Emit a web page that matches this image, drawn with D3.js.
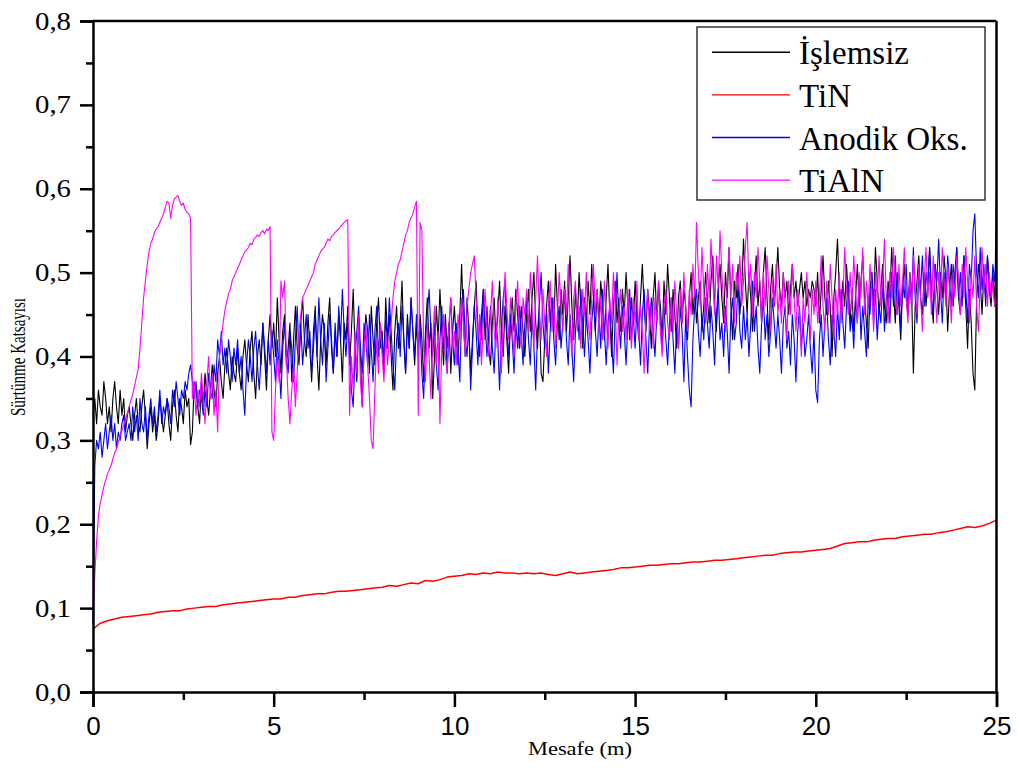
<!DOCTYPE html>
<html>
<head>
<meta charset="utf-8">
<script src="https://cdn.jsdelivr.net/npm/d3@7"></script>
<style>
  html, body { margin: 0; padding: 0; background: #fff; }
  svg { display: block; }
</style>
</head>
<body>
<svg id="chart" width="1018" height="769"></svg>
<script>
// Friction coefficient vs. sliding distance (0 ... 25 m) for four surface conditions.
// Each array is sampled uniformly over the 25 m run (noisy series every 0.05 m, TiN every 0.2 m).
const distanceMax = 25;

const islemsiz = [
  0.33,0.35,0.32,0.36,0.34,0.33,0.37,0.35,0.32,0.34, 0.31,0.35,0.37,0.34,0.32,0.36,0.33,0.35,0.31,0.33,
  0.34,0.32,0.30,0.33,0.35,0.32,0.31,0.34,0.36,0.33, 0.29,0.32,0.34,0.31,0.33,0.30,0.32,0.35,0.33,0.31,
  0.33,0.35,0.32,0.30,0.34,0.36,0.33,0.31,0.35,0.34, 0.32,0.36,0.34,0.35,0.295,0.31,0.37,0.36,0.34,0.32,
  0.37,0.34,0.38,0.35,0.33,0.36,0.39,0.36,0.34,0.38, 0.40,0.37,0.35,0.39,0.41,0.38,0.36,0.40,0.38,0.37,
  0.41,0.38,0.36,0.40,0.42,0.39,0.37,0.41,0.43,0.38, 0.35,0.40,0.42,0.39,0.44,0.40,0.36,0.42,0.45,0.41,
  0.44,0.40,0.47,0.42,0.38,0.43,0.45,0.39,0.41,0.44, 0.37,0.42,0.46,0.41,0.39,0.44,0.47,0.42,0.40,0.45,
  0.41,0.37,0.43,0.46,0.40,0.36,0.42,0.45,0.43,0.39, 0.44,0.47,0.41,0.38,0.43,0.40,0.45,0.42,0.37,0.44,
  0.42,0.46,0.39,0.43,0.48,0.41,0.37,0.44,0.40,0.34, 0.41,0.45,0.43,0.38,0.46,0.42,0.39,0.44,0.47,0.41,
  0.43,0.39,0.47,0.42,0.45,0.40,0.36,0.43,0.46,0.41, 0.44,0.49,0.42,0.38,0.45,0.41,0.47,0.43,0.39,0.44,
  0.40,0.45,0.42,0.37,0.43,0.47,0.41,0.44,0.35,0.40, 0.46,0.42,0.48,0.43,0.39,0.45,0.41,0.44,0.38,0.43,
  0.46,0.42,0.39,0.45,0.51,0.44,0.40,0.47,0.43,0.38, 0.42,0.46,0.49,0.43,0.40,0.45,0.48,0.42,0.46,0.41,
  0.39,0.44,0.47,0.42,0.45,0.49,0.43,0.40,0.46,0.42, 0.38,0.44,0.47,0.43,0.48,0.45,0.41,0.46,0.43,0.40,
  0.45,0.48,0.43,0.47,0.50,0.44,0.41,0.46,0.38,0.37, 0.42,0.46,0.49,0.44,0.47,0.43,0.51,0.46,0.42,0.48,
  0.45,0.49,0.43,0.47,0.52,0.46,0.42,0.48,0.44,0.50, 0.46,0.41,0.47,0.44,0.49,0.45,0.51,0.47,0.43,0.48,
  0.44,0.49,0.46,0.42,0.47,0.51,0.45,0.40,0.46,0.49, 0.44,0.47,0.43,0.48,0.45,0.50,0.46,0.42,0.47,0.44,
  0.49,0.45,0.42,0.47,0.51,0.46,0.43,0.48,0.45,0.41, 0.47,0.50,0.44,0.48,0.46,0.42,0.49,0.45,0.51,0.47,
  0.43,0.48,0.45,0.41,0.47,0.49,0.44,0.48,0.46,0.42, 0.47,0.50,0.45,0.48,0.44,0.47,0.49,0.43,0.46,0.50,
  0.47,0.44,0.49,0.52,0.46,0.43,0.48,0.51,0.47,0.44, 0.50,0.47,0.53,0.46,0.42,0.49,0.47,0.51,0.45,0.48,
  0.54,0.49,0.45,0.50,0.47,0.43,0.48,0.52,0.46,0.49, 0.44,0.50,0.53,0.47,0.42,0.48,0.51,0.46,0.49,0.53,
  0.48,0.46,0.50,0.47,0.49,0.45,0.48,0.51,0.47,0.49, 0.46,0.48,0.50,0.47,0.49,0.46,0.48,0.47,0.49,0.48,
  0.46,0.50,0.44,0.48,0.52,0.47,0.45,0.49,0.46,0.40, 0.47,0.50,0.54,0.48,0.45,0.49,0.46,0.51,0.47,0.44,
  0.48,0.43,0.47,0.51,0.46,0.49,0.52,0.47,0.44,0.41, 0.48,0.50,0.46,0.53,0.49,0.45,0.48,0.51,0.46,0.44,
  0.49,0.47,0.53,0.48,0.44,0.50,0.46,0.42,0.48,0.51, 0.47,0.45,0.50,0.48,0.38,0.46,0.49,0.52,0.47,0.45,
  0.50,0.46,0.49,0.53,0.47,0.44,0.51,0.48,0.45,0.50, 0.47,0.52,0.49,0.43,0.48,0.51,0.46,0.50,0.53,0.47,
  0.45,0.49,0.52,0.46,0.41,0.48,0.44,0.38,0.36,0.47, 0.51,0.49,0.45,0.50,0.47,0.52,0.48,0.46,0.50,0.46,
  0.60
];

const tin = [
  0.075,0.082,0.085,0.087,0.089,0.090,0.091,0.092,0.093,0.095,
  0.096,0.097,0.097,0.099,0.100,0.101,0.102,0.102,0.104,0.105,
  0.106,0.107,0.108,0.109,0.110,0.111,0.111,0.113,0.113,0.115,
  0.116,0.117,0.117,0.119,0.120,0.120,0.121,0.122,0.123,0.124,
  0.125,0.127,0.126,0.128,0.130,0.129,0.133,0.132,0.134,0.137,
  0.138,0.139,0.141,0.140,0.142,0.141,0.143,0.142,0.142,0.141,
  0.142,0.141,0.142,0.140,0.139,0.141,0.143,0.141,0.142,0.143,
  0.144,0.145,0.146,0.148,0.148,0.149,0.150,0.151,0.151,0.152,
  0.153,0.153,0.154,0.155,0.155,0.156,0.157,0.157,0.158,0.159,
  0.160,0.161,0.162,0.163,0.163,0.165,0.166,0.167,0.167,0.168,
  0.169,0.170,0.171,0.174,0.177,0.178,0.179,0.179,0.181,0.182,
  0.183,0.183,0.185,0.186,0.187,0.188,0.188,0.190,0.191,0.193,
  0.195,0.197,0.196,0.198,0.201,0.205
];

const anodikOks = [
  0.08,0.27,0.30,0.29,0.31,0.28,0.30,0.32,0.29,0.31, 0.33,0.30,0.32,0.29,0.31,0.30,0.32,0.33,0.30,0.31,
  0.32,0.30,0.34,0.31,0.33,0.30,0.35,0.32,0.31,0.34, 0.30,0.33,0.35,0.32,0.34,0.31,0.33,0.36,0.32,0.34,
  0.33,0.35,0.34,0.32,0.36,0.34,0.37,0.35,0.33,0.36, 0.35,0.37,0.36,0.38,0.39,0.37,0.35,0.37,0.34,0.36,
  0.35,0.33,0.36,0.34,0.38,0.36,0.35,0.39,0.37,0.42, 0.40,0.43,0.39,0.41,0.38,0.42,0.40,0.37,0.41,0.39,
  0.42,0.38,0.40,0.36,0.33,0.39,0.42,0.40,0.37,0.41, 0.43,0.39,0.36,0.40,0.44,0.41,0.38,0.42,0.39,0.43,
  0.40,0.37,0.42,0.39,0.35,0.41,0.44,0.40,0.38,0.43, 0.41,0.37,0.42,0.46,0.40,0.44,0.39,0.42,0.45,0.41,
  0.43,0.38,0.41,0.45,0.40,0.47,0.42,0.39,0.44,0.37, 0.41,0.45,0.42,0.38,0.44,0.40,0.46,0.42,0.48,0.43,
  0.40,0.44,0.41,0.36,0.34,0.40,0.43,0.46,0.41,0.38, 0.44,0.42,0.39,0.45,0.41,0.37,0.43,0.46,0.40,0.44,
  0.42,0.38,0.45,0.41,0.47,0.43,0.39,0.36,0.42,0.44, 0.40,0.46,0.42,0.38,0.44,0.41,0.47,0.43,0.40,0.45,
  0.41,0.44,0.38,0.35,0.42,0.45,0.48,0.43,0.40,0.44, 0.39,0.36,0.42,0.46,0.41,0.44,0.38,0.43,0.47,0.42,
  0.39,0.44,0.41,0.37,0.45,0.48,0.42,0.40,0.44,0.36, 0.41,0.46,0.43,0.39,0.45,0.42,0.48,0.44,0.40,0.43,
  0.46,0.41,0.38,0.44,0.42,0.36,0.43,0.47,0.49,0.43, 0.40,0.45,0.42,0.38,0.44,0.41,0.46,0.43,0.39,0.44,
  0.47,0.42,0.39,0.45,0.41,0.36,0.43,0.46,0.50,0.44, 0.41,0.45,0.38,0.43,0.47,0.42,0.39,0.44,0.46,0.41,
  0.44,0.48,0.42,0.39,0.45,0.41,0.37,0.43,0.46,0.42, 0.48,0.44,0.40,0.45,0.42,0.38,0.44,0.47,0.43,0.40,
  0.45,0.41,0.48,0.43,0.39,0.44,0.46,0.42,0.38,0.45, 0.50,0.44,0.41,0.46,0.43,0.39,0.44,0.48,0.42,0.45,
  0.41,0.46,0.43,0.39,0.45,0.48,0.42,0.38,0.44,0.47, 0.43,0.40,0.45,0.49,0.44,0.41,0.46,0.42,0.39,0.44,
  0.47,0.42,0.38,0.44,0.41,0.46,0.43,0.37,0.45,0.40, 0.36,0.34,0.42,0.46,0.48,0.43,0.40,0.45,0.42,0.47,
  0.44,0.41,0.46,0.43,0.39,0.45,0.48,0.42,0.44,0.40, 0.46,0.43,0.38,0.45,0.47,0.42,0.44,0.49,0.43,0.41,
  0.46,0.42,0.45,0.40,0.44,0.49,0.43,0.46,0.41,0.38, 0.44,0.47,0.42,0.45,0.40,0.43,0.47,0.44,0.41,0.45,
  0.42,0.38,0.44,0.46,0.41,0.43,0.39,0.45,0.42,0.37, 0.43,0.46,0.41,0.44,0.40,0.42,0.45,0.41,0.38,0.43,
  0.36,0.345,0.42,0.45,0.40,0.44,0.47,0.42,0.39,0.45, 0.43,0.40,0.46,0.42,0.48,0.44,0.41,0.46,0.49,0.43,
  0.45,0.41,0.47,0.44,0.49,0.42,0.46,0.43,0.40,0.47, 0.45,0.50,0.44,0.48,0.42,0.46,0.44,0.49,0.43,0.47,
  0.48,0.44,0.50,0.46,0.52,0.45,0.48,0.43,0.49,0.47, 0.51,0.45,0.49,0.46,0.53,0.47,0.44,0.50,0.48,0.52,
  0.46,0.50,0.48,0.53,0.47,0.45,0.51,0.49,0.54,0.48, 0.44,0.50,0.47,0.52,0.49,0.46,0.51,0.48,0.53,0.47,
  0.50,0.46,0.52,0.48,0.44,0.51,0.49,0.55,0.57,0.50, 0.47,0.53,0.48,0.51,0.46,0.52,0.49,0.47,0.51,0.49,
  0.52
];

const tialn = [
  0.08,0.14,0.18,0.21,0.225,0.235,0.245,0.252,0.26,0.265, 0.27,0.278,0.285,0.29,0.298,0.305,0.312,0.318,0.325,0.332,
  0.34,0.348,0.355,0.365,0.375,0.385,0.41,0.44,0.47,0.49, 0.51,0.525,0.535,0.54,0.548,0.552,0.555,0.56,0.565,0.57,
  0.578,0.585,0.583,0.565,0.58,0.588,0.59,0.592,0.585,0.58, 0.583,0.575,0.572,0.57,0.565,0.35,0.37,0.33,0.36,0.34,
  0.38,0.35,0.32,0.37,0.40,0.35,0.38,0.33,0.36,0.31, 0.40,0.42,0.44,0.455,0.465,0.475,0.48,0.49,0.495,0.50,
  0.505,0.51,0.515,0.52,0.525,0.527,0.53,0.535,0.533,0.54, 0.542,0.545,0.543,0.548,0.55,0.546,0.552,0.55,0.555,0.31,
  0.30,0.36,0.40,0.37,0.49,0.47,0.49,0.40,0.35,0.32, 0.36,0.39,0.34,0.38,0.43,0.45,0.47,0.475,0.48,0.485,
  0.49,0.495,0.50,0.51,0.515,0.52,0.525,0.528,0.53,0.535, 0.54,0.538,0.543,0.545,0.548,0.55,0.552,0.555,0.557,0.56,
  0.562,0.563,0.33,0.40,0.36,0.43,0.38,0.45,0.37,0.34, 0.41,0.44,0.39,0.35,0.30,0.29,0.36,0.42,0.38,0.44,
  0.40,0.37,0.43,0.39,0.42,0.44,0.47,0.49,0.50,0.51, 0.515,0.525,0.535,0.545,0.55,0.56,0.565,0.57,0.578,0.585,
  0.33,0.56,0.55,0.41,0.37,0.44,0.40,0.35,0.42,0.46, 0.39,0.43,0.32,0.41,0.45,0.40,0.38,0.44,0.47,0.41,
  0.43,0.39,0.45,0.42,0.47,0.44,0.40,0.46,0.48,0.50, 0.51,0.52,0.47,0.42,0.45,0.39,0.44,0.48,0.43,0.40,
  0.45,0.49,0.43,0.41,0.47,0.44,0.38,0.45,0.50,0.46, 0.42,0.47,0.44,0.40,0.46,0.49,0.43,0.41,0.47,0.45,
  0.48,0.43,0.50,0.46,0.41,0.47,0.52,0.45,0.42,0.48, 0.44,0.40,0.46,0.49,0.43,0.47,0.41,0.45,0.50,0.46,
  0.43,0.48,0.45,0.51,0.44,0.40,0.47,0.49,0.43,0.46, 0.41,0.48,0.45,0.50,0.44,0.42,0.47,0.51,0.45,0.48,
  0.43,0.47,0.42,0.49,0.45,0.41,0.47,0.44,0.50,0.46, 0.39,0.45,0.48,0.43,0.46,0.42,0.48,0.44,0.41,0.47,
  0.44,0.49,0.42,0.46,0.43,0.38,0.45,0.48,0.43,0.46, 0.41,0.47,0.44,0.49,0.43,0.40,0.46,0.48,0.44,0.42,
  0.47,0.43,0.49,0.45,0.41,0.48,0.44,0.50,0.46,0.43, 0.48,0.45,0.51,0.47,0.56,0.50,0.46,0.53,0.48,0.44,
  0.51,0.47,0.54,0.49,0.45,0.52,0.48,0.55,0.50,0.46, 0.43,0.49,0.53,0.47,0.51,0.44,0.50,0.48,0.52,0.46,
  0.49,0.53,0.56,0.48,0.51,0.45,0.50,0.47,0.53,0.49, 0.44,0.50,0.46,0.52,0.48,0.43,0.49,0.46,0.51,0.45,
  0.48,0.44,0.50,0.46,0.42,0.49,0.45,0.51,0.47,0.43, 0.48,0.45,0.40,0.47,0.44,0.50,0.46,0.42,0.48,0.45,
  0.49,0.44,0.47,0.52,0.46,0.43,0.49,0.45,0.51,0.47, 0.42,0.48,0.45,0.50,0.44,0.47,0.53,0.48,0.45,0.50,
  0.46,0.52,0.48,0.44,0.50,0.47,0.53,0.45,0.49,0.46, 0.51,0.48,0.43,0.50,0.47,0.52,0.46,0.49,0.54,0.47,
  0.44,0.50,0.47,0.53,0.48,0.45,0.51,0.46,0.49,0.53, 0.47,0.44,0.50,0.46,0.52,0.48,0.45,0.51,0.47,0.43,
  0.49,0.53,0.47,0.50,0.45,0.52,0.48,0.44,0.50,0.47, 0.53,0.49,0.46,0.51,0.48,0.44,0.50,0.47,0.52,0.49,
  0.45,0.51,0.47,0.53,0.49,0.44,0.50,0.47,0.52,0.46, 0.43,0.49,0.53,0.48,0.51,0.46,0.50,0.47,0.49,0.46,
  0.46
];

const seriesNames = ["İşlemsiz", "TiN", "Anodik Oks.", "TiAlN"];
const seriesColors = ["#000000", "#ff0000", "#0000ff", "#ff00ff"];
const xTicks = [0, 5, 10, 15, 20, 25];
const xMinorTicks = [2.5, 7.5, 12.5, 17.5, 22.5];
const yTicks = [0, 0.1, 0.2, 0.3, 0.4, 0.5, 0.6, 0.7, 0.8];
const yMinorTicks = [0.05, 0.15, 0.25, 0.35, 0.45, 0.55, 0.65, 0.75];

const svg = d3.select("#chart");
const x = d3.scaleLinear().domain([0, distanceMax]).range([93, 996.5]);
const y = d3.scaleLinear().domain([0, 0.8]).range([692, 21]);

// uniform sampling over the full distance
const toPoints = arr => arr.map((v, i) => [i * distanceMax / (arr.length - 1), v]);
const series = [
  { name: seriesNames[0], color: seriesColors[0], pts: toPoints(islemsiz), w: 1.1 },
  { name: seriesNames[1], color: seriesColors[1], pts: toPoints(tin), w: 1.5 },
  { name: seriesNames[2], color: seriesColors[2], pts: toPoints(anodikOks), w: 1.1 },
  { name: seriesNames[3], color: seriesColors[3], pts: toPoints(tialn), w: 1.1 }
];

const line = d3.line().x(d => x(d[0])).y(d => y(d[1]));

svg.append("g").selectAll("path").data(series).join("path")
  .attr("d", d => line(d.pts))
  .attr("fill", "none")
  .attr("stroke", d => d.color)
  .attr("stroke-width", d => d.w)
  .attr("stroke-linejoin", "round");

// Frame: top and right edges
svg.append("line").attr("x1", x(0)).attr("x2", x(distanceMax)).attr("y1", y(0.8)).attr("y2", y(0.8))
  .attr("stroke", "#000").attr("stroke-width", 2.5);
svg.append("line").attr("x1", x(distanceMax)).attr("x2", x(distanceMax)).attr("y1", y(0.8)).attr("y2", y(0))
  .attr("stroke", "#000").attr("stroke-width", 2.5);

// Axes
const fmt = d3.format(".1f");
const yAxis = svg.append("g").attr("transform", `translate(${x(0)},0)`)
  .call(d3.axisLeft(y).tickValues(yTicks).tickSize(13).tickPadding(9)
    .tickFormat(d => fmt(d).replace(".", ",")));
const yMinor = svg.append("g").attr("transform", `translate(${x(0)},0)`)
  .call(d3.axisLeft(y).tickValues(yMinorTicks).tickSize(7).tickFormat(""));
const xAxis = svg.append("g").attr("transform", `translate(0,${y(0)})`)
  .call(d3.axisBottom(x).tickValues(xTicks).tickSize(15).tickPadding(10));
const xMinor = svg.append("g").attr("transform", `translate(0,${y(0)})`)
  .call(d3.axisBottom(x).tickValues(xMinorTicks).tickSize(8).tickFormat(""));

[yAxis, yMinor, xAxis, xMinor].forEach(g => {
  g.selectAll(".domain").attr("stroke", "#000").attr("stroke-width", 2.5);
  g.selectAll(".tick line").attr("stroke", "#000").attr("stroke-width", 2.5);
});
yMinor.select(".domain").remove();
xMinor.select(".domain").remove();

yAxis.selectAll(".tick text")
  .attr("font-family", "'Liberation Serif', 'Times New Roman', serif")
  .attr("font-size", 25).attr("fill", "#000")
  .attr("textLength", 36).attr("lengthAdjust", "spacingAndGlyphs");
xAxis.selectAll(".tick text")
  .attr("font-family", "'Liberation Sans', Arial, sans-serif")
  .attr("font-size", 26).attr("fill", "#000");

// Axis titles
svg.append("text")
  .attr("x", 580).attr("y", 755)
  .attr("text-anchor", "middle")
  .attr("font-family", "'Liberation Serif', 'Times New Roman', serif")
  .attr("font-size", 19)
  .attr("textLength", 104).attr("lengthAdjust", "spacingAndGlyphs")
  .text("Mesafe (m)");
svg.append("text")
  .attr("transform", "translate(25,357) rotate(-90) scale(1,1.3)")
  .attr("text-anchor", "middle")
  .attr("font-family", "'Liberation Serif', 'Times New Roman', serif")
  .attr("font-size", 16)
  .attr("textLength", 118).attr("lengthAdjust", "spacingAndGlyphs")
  .text("Sürtünme Katsayısı");

// Legend
const lg = svg.append("g");
lg.append("rect").attr("x", 697).attr("y", 27).attr("width", 288).attr("height", 173)
  .attr("fill", "#fff").attr("stroke", "#333").attr("stroke-width", 1.5);
const rows = lg.selectAll("g.row").data(series).join("g")
  .attr("transform", (d, i) => `translate(0,${52.3 + i * 42.6})`);
rows.append("line").attr("x1", 712).attr("x2", 790).attr("y1", 0).attr("y2", 0)
  .attr("stroke", d => d.color).attr("stroke-width", 1.4);
rows.append("text").attr("x", 799).attr("y", 12)
  .attr("font-family", "'Liberation Serif', 'Times New Roman', serif")
  .attr("font-size", 33).attr("fill", "#000")
  .text(d => d.name);
</script>
</body>
</html>
